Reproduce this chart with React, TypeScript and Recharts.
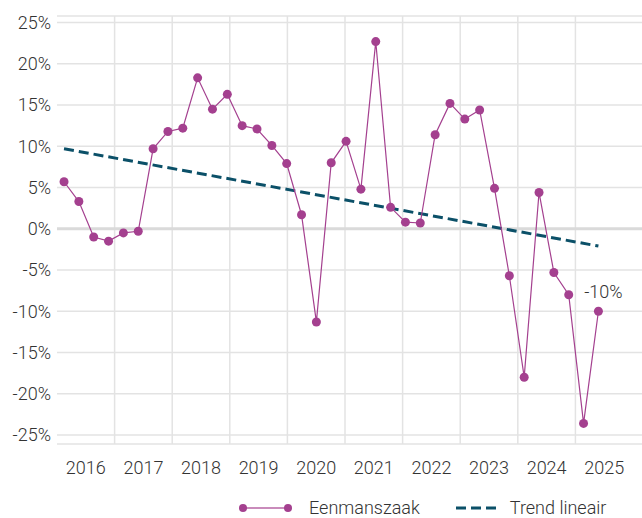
import { LineChart, Line, XAxis, YAxis, CartesianGrid, ReferenceLine, Legend, LabelList } from "recharts";

// kwartalen 2016 K1 t/m 2025 K1
const periods = [
  "2016 K1", "2016 K2", "2016 K3", "2016 K4",
  "2017 K1", "2017 K2", "2017 K3", "2017 K4",
  "2018 K1", "2018 K2", "2018 K3", "2018 K4",
  "2019 K1", "2019 K2", "2019 K3", "2019 K4",
  "2020 K1", "2020 K2", "2020 K3", "2020 K4",
  "2021 K1", "2021 K2", "2021 K3", "2021 K4",
  "2022 K1", "2022 K2", "2022 K3", "2022 K4",
  "2023 K1", "2023 K2", "2023 K3", "2023 K4",
  "2024 K1", "2024 K2", "2024 K3", "2024 K4",
  "2025 K1",
];

const eenmanszaak = [
  5.7, 3.3, -1.0, -1.5, -0.5, -0.3, 9.7, 11.8, 12.2, 18.3, 14.5, 16.3,
  12.5, 12.1, 10.1, 7.9, 1.7, -11.3, 8.0, 10.6, 4.8, 22.7, 2.6, 0.8,
  0.7, 11.4, 15.2, 13.3, 14.4, 4.9, -5.7, -18.0, 4.4, -5.3, -8.0, -23.6,
  -10.0,
];

const trendStart = 9.7;
const trendEnd = -2.1;

const years = [2016, 2017, 2018, 2019, 2020, 2021, 2022, 2023, 2024, 2025];
const yTicks = [-25, -20, -15, -10, -5, 0, 5, 10, 15, 20, 25];

// position on the time axis (fractional years)
const FIRST = 2016.122;
const STEP = 0.2577;

const PURPLE = "#a4408f";
const TEAL = "#0b5068";
const GRID = "#e3e3e3";
const TEXT = "#333";
const FONT = "Roboto";
const FS = 18;

const last = eenmanszaak.length - 1;

const data = periods.map((p, i) => ({
  period: p,
  t: FIRST + i * STEP,
  value: eenmanszaak[i],
  trend: i === 0 ? trendStart : i === last ? trendEnd : null,
}));

const tickStyle = { fill: TEXT, fontSize: FS, fontFamily: FONT, fontWeight: 300 };

function LastLabel(props: any) {
  const { x, y, index, value } = props;
  if (index !== last) return null;
  return (
    <text x={x + 5} y={y - 13} textAnchor="middle" fill={TEXT} fontSize={FS} fontFamily={FONT} fontWeight={300}>
      {`${Math.round(value)}%`}
    </text>
  );
}

function renderLegend() {
  return (
    <div style={{ display: "flex", alignItems: "center", boxSizing: "border-box", paddingTop: 18, paddingLeft: 239, height: 38, lineHeight: "20px", fontFamily: FONT, fontWeight: 300, fontSize: FS, color: TEXT }}>
      <svg width={54} height={10}>
        <line x1={4} y1={5} x2={49} y2={5} stroke="#c98bbb" strokeWidth={2} />
        <circle cx={4} cy={5} r={4} fill={PURPLE} />
        <circle cx={49} cy={5} r={4} fill={PURPLE} />
      </svg>
      <span style={{ marginLeft: 16 }}>Eenmanszaak</span>
      <svg width={40} height={10} style={{ marginLeft: 36 }}>
        <line x1={0} y1={5} x2={40} y2={5} stroke={TEAL} strokeWidth={3} strokeDasharray="10 5" />
      </svg>
      <span style={{ marginLeft: 14 }}>Trend lineair</span>
    </div>
  );
}

export default function App() {
  return (
    <div style={{ position: "absolute", left: 0, top: 0 }}>
      <LineChart width={642} height={518} data={data} margin={{ top: 16, right: 0, left: 0, bottom: 0 }}>
        <CartesianGrid vertical={false} stroke={GRID} strokeWidth={1.5} />
        {years.slice(1).map((y) => (
          <ReferenceLine key={y} x={y} stroke={GRID} strokeWidth={1.5} />
        ))}
        <ReferenceLine y={0} stroke="#dadada" strokeWidth={3} />
        <XAxis
          type="number"
          dataKey="t"
          domain={[2016, 2026.156]}
          ticks={years.map((y) => y + 0.5)}
          tickFormatter={(v: number) => String(Math.floor(v))}
          axisLine={false}
          tickLine={false}
          tickMargin={11}
          height={36}
          tick={tickStyle}
          allowDataOverflow
        />
        <YAxis
          width={57}
          domain={[-26.1, 25.8]}
          ticks={yTicks}
          tickFormatter={(v: number) => `${v}%`}
          axisLine={false}
          tickLine={false}
          tickMargin={0}
          tick={tickStyle}
          allowDataOverflow
        />
        <Legend verticalAlign="bottom" height={38} content={renderLegend} />
        <Line
          type="linear"
          dataKey="trend"
          stroke={TEAL}
          strokeWidth={3}
          strokeDasharray="10 5"
          dot={false}
          connectNulls
          isAnimationActive={false}
        />
        <Line
          type="linear"
          dataKey="value"
          stroke={PURPLE}
          strokeWidth={1.2}
          dot={{ r: 4.5, fill: PURPLE, stroke: "none" }}
          isAnimationActive={false}
        >
          <LabelList dataKey="value" content={LastLabel} />
        </Line>
      </LineChart>
    </div>
  );
}
